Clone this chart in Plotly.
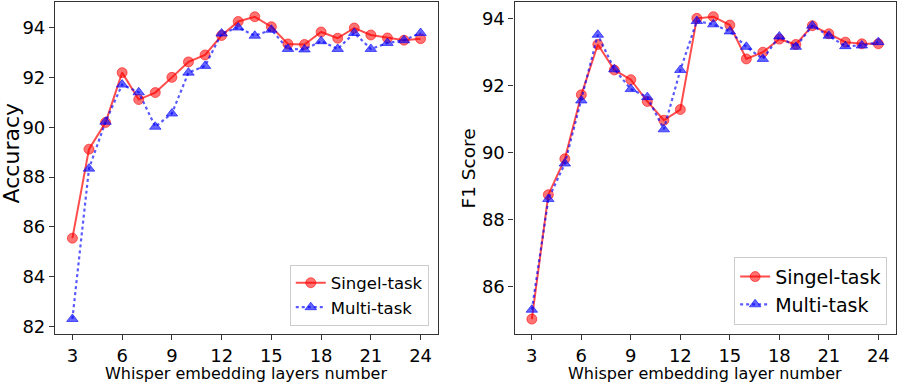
import plotly.graph_objects as go

layers = list(range(3, 25))

acc_single = [85.55, 89.12, 90.19, 92.19, 91.11, 91.39, 92.00, 92.62, 92.90, 93.68,
              94.24, 94.43, 94.03, 93.34, 93.32, 93.82, 93.57, 93.98, 93.70, 93.58,
              93.49, 93.55]
acc_multi = [82.31, 88.34, 90.22, 91.71, 91.40, 90.02, 90.55, 92.19, 92.46, 93.76,
             94.00, 93.67, 93.91, 93.14, 93.12, 93.45, 93.14, 93.78, 93.14, 93.38,
             93.49, 93.78]

f1_single = [85.03, 88.74, 89.81, 91.72, 93.22, 92.46, 92.17, 91.52, 90.96, 91.28,
             94.00, 94.05, 93.80, 92.79, 92.99, 93.38, 93.22, 93.78, 93.54, 93.29,
             93.24, 93.24]
f1_multi = [85.31, 88.61, 89.67, 91.55, 93.51, 92.48, 91.89, 91.65, 90.69, 92.46,
            93.92, 93.82, 93.61, 93.15, 92.79, 93.46, 93.15, 93.78, 93.48, 93.17,
            93.19, 93.29]

x_ticks = [3, 6, 9, 12, 15, 18, 21, 24]
acc_yticks = [82, 84, 86, 88, 90, 92, 94]
f1_yticks = [86, 88, 90, 92, 94]

FONT = "DejaVu Sans"
RED_LINE = "rgba(255,0,0,0.7)"
RED_MARK = "rgba(255,0,0,0.55)"
BLUE_LINE = "rgba(0,0,255,0.65)"
BLUE_MARK = "rgba(0,0,255,0.6)"


def add_pair(fig, single, multi, xa, ya, legend):
    fig.add_trace(go.Scatter(
        x=layers, y=single, xaxis=xa, yaxis=ya, legend=legend,
        mode="lines+markers", name="Singel-task",
        line=dict(color=RED_LINE, width=2),
        marker=dict(symbol="circle", size=10, color=RED_MARK,
                    line=dict(color=RED_MARK, width=1)),
    ))
    fig.add_trace(go.Scatter(
        x=layers, y=multi, xaxis=xa, yaxis=ya, legend=legend,
        mode="lines+markers", name="Multi-task",
        line=dict(color=BLUE_LINE, width=2.2, dash="dot"),
        marker=dict(symbol="triangle-up", size=10, color=BLUE_MARK,
                    line=dict(color=BLUE_MARK, width=1)),
    ))


fig = go.Figure()
add_pair(fig, acc_single, acc_multi, "x", "y", "legend")
add_pair(fig, f1_single, f1_multi, "x2", "y2", "legend2")

axis_common = dict(
    showgrid=False, zeroline=False, showline=True, mirror=True,
    linecolor="#333", linewidth=1.2, ticks="outside", ticklen=5,
    tickcolor="#333", tickfont=dict(family=FONT, size=18, color="black"),
)

legend_common = dict(
    bgcolor="rgba(255,255,255,0.8)", bordercolor="#ccc", borderwidth=1,
    xanchor="right", yanchor="bottom", itemwidth=30, tracegroupgap=0,
)


def title_ann(text, x, y, size, angle=0, yanchor="middle"):
    return dict(text=text, x=x, y=y, xref="paper", yref="paper", textangle=angle,
                xanchor="center", yanchor=yanchor, showarrow=False, borderpad=0,
                font=dict(family=FONT, size=size, color="black"))


fig.update_layout(
    width=897, height=384,
    margin=dict(l=0, r=0, t=0, b=0),
    paper_bgcolor="white", plot_bgcolor="white",
    xaxis=dict(domain=[0.0613, 0.4883], range=[1.95, 25.05], tickvals=x_ticks, anchor="y", **axis_common),
    yaxis=dict(domain=[0.1232, 0.9985], range=[81.70, 95.04], tickvals=acc_yticks, anchor="x", **axis_common),
    xaxis2=dict(domain=[0.5736, 0.9985], range=[1.95, 25.05], tickvals=x_ticks, anchor="y2", **axis_common),
    yaxis2=dict(domain=[0.1232, 0.9985], range=[84.58, 94.50], tickvals=f1_yticks, anchor="x2", **axis_common),
    legend=dict(x=0.478, y=0.146, font=dict(family=FONT, size=16.5, color="black"), **legend_common),
    legend2=dict(x=0.989, y=0.148, font=dict(family=FONT, size=19, color="black"), **legend_common),
    annotations=[
        title_ann("Accuracy", 0.0123, 0.599, 22, -90),
        title_ann("F1 Score", 0.522, 0.56, 18.5, -90),
        title_ann("Whisper embedding layers number", 0.2748, -0.008, 16, yanchor="bottom"),
        title_ann("Whisper embedding layer number", 0.786, -0.008, 16, yanchor="bottom"),
    ],
)

fig.write_html(
    "out.html",
    config={"displayModeBar": False},
    post_script="document.body.style.margin='0';document.body.style.overflow='hidden';",
)
